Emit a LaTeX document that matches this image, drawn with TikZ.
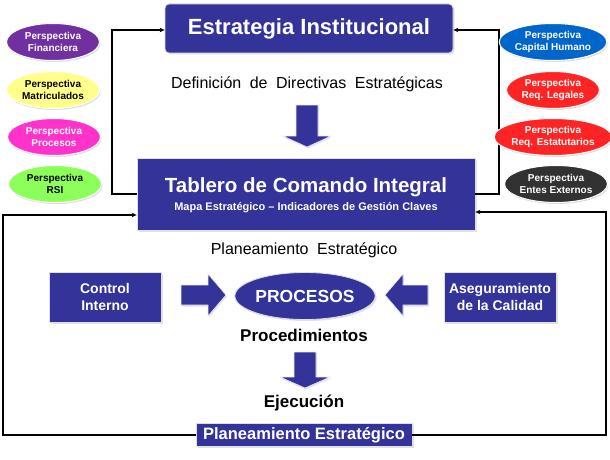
\documentclass[tikz,border=0pt]{standalone}
\usepackage{fontspec}
\setmainfont{Liberation Sans}
\usetikzlibrary{shadows,arrows.meta,shapes.geometric}
\definecolor{mblue}{RGB}{51,51,153}
\definecolor{cpurple}{RGB}{112,48,160}
\definecolor{cyellow}{RGB}{255,255,140}
\definecolor{cmagenta}{RGB}{255,51,204}
\definecolor{cgreen}{RGB}{140,255,90}
\definecolor{cblue}{RGB}{0,102,204}
\definecolor{cred}{RGB}{255,36,36}
\definecolor{cdark}{RGB}{50,50,50}
\newcommand\mywidesp{\spaceskip=8.5pt plus 1pt\relax}
\begin{document}
\begin{tikzpicture}[x=1pt,y=-1pt,
  box/.style={rectangle, fill=mblue, draw=gray!25, line width=0.8pt, text=white, align=center, inner sep=0pt,
    drop shadow={shadow xshift=1.5pt, shadow yshift=-1.5pt, fill=gray!45}},
  persp/.style={ellipse, minimum width=93pt, minimum height=37pt, inner sep=0pt, draw=white, line width=1pt,
    align=center, font=\fontsize{10}{12}\selectfont\bfseries,
    drop shadow={shadow xshift=1pt, shadow yshift=-1.5pt, fill=gray!50}},
  conn/.style={draw=black, line width=1.1pt, -{Stealth[length=5pt,width=4.5pt]}},
  blockarrow/.style={fill=mblue, draw=gray!15, line width=0.6pt,
    drop shadow={shadow xshift=1pt, shadow yshift=-1.5pt, fill=gray!40}},
  plain/.style={inner sep=0pt, font=\fontsize{16}{19}\selectfont\mywidesp},
  boldtxt/.style={inner sep=0pt, font=\fontsize{17}{20}\selectfont\bfseries}
]
\useasboundingbox (0,0) rectangle (610,460);
\fill[white] (0,0) rectangle (610,460);

% main boxes
\node[box, rounded corners=4pt, minimum width=288pt, minimum height=49pt,
      font=\fontsize{22}{26}\selectfont\bfseries] (estr) at (309,28.5) {Estrategia Institucional};
\node[plain] (defin) at (307,84) {Definición de Directivas Estratégicas};
\node[box, minimum width=338pt, minimum height=72pt] (tab) at (306,194) {};
\node[inner sep=0pt, text=white, font=\fontsize{20.5}{24}\selectfont\bfseries] (tabT) at (306,187) {Tablero de Comando Integral};
\node[inner sep=0pt, text=white, font=\fontsize{11}{13}\selectfont\bfseries] (tabS) at (306,208) {Mapa Estratégico – Indicadores de Gestión Claves};
\node[plain] (plan) at (304,250) {Planeamiento Estratégico};

\node[box, minimum width=112pt, minimum height=50pt, font=\fontsize{14}{16.5}\selectfont\bfseries] (ci) at (105,297) {Control\\Interno};
\node[box, minimum width=112pt, minimum height=50pt, font=\fontsize{14}{16.5}\selectfont\bfseries] (as) at (500,297) {Aseguramiento\\de la Calidad};
\node[ellipse, fill=mblue, draw=gray!25, line width=0.8pt, text=white, inner sep=0pt,
      minimum width=131pt, minimum height=47pt, font=\fontsize{17.5}{20}\selectfont\bfseries,
      drop shadow={shadow xshift=1.5pt, shadow yshift=-1.5pt, fill=gray!45}] (proc) at (305,296) {PROCESOS};
\node[boldtxt] (procd) at (304,335) {Procedimientos};
\node[boldtxt] (ejec) at (304,403) {Ejecución};
\node[box, minimum width=216pt, minimum height=23pt, font=\fontsize{16.5}{19}\selectfont\bfseries] (pl) at (304,435) {Planeamiento Estratégico};

% block arrows
\path[blockarrow] (296,105) -- (318,105) -- (318,136) -- (331,136) -- (307,147) -- (283,136) -- (296,136) -- cycle;
\path[blockarrow] (181,285) -- (208,285) -- (208,274) -- (226,295) -- (208,316) -- (208,305) -- (181,305) -- cycle;
\path[blockarrow] (428,285) -- (403,285) -- (403,274) -- (385,295) -- (403,316) -- (403,305) -- (428,305) -- cycle;
\path[blockarrow] (294,352) -- (316,352) -- (316,377) -- (330,377) -- (305,388) -- (280,377) -- (294,377) -- cycle;

% connectors
\coordinate (lc) at (112,30);
\coordinate (rc) at (499,30);
\draw[conn] (tab.west) -| (lc) -- (lc -| estr.west);
\draw[conn] (tab.east) -| (rc) -- (rc -| estr.east);
\coordinate (ol) at (3,215);
\coordinate (orr) at (606,212);
\draw[conn] (pl.west) -| (ol) -- (ol -| tab.west);
\draw[conn] (pl.east) -| (orr) -- (orr -| tab.east);

% perspectives left
\node[persp, fill=cpurple, text=white] (pf) at (53,42) {Perspectiva\\Financiera};
\node[persp, fill=cyellow, text=black] (pm) at (53,90) {Perspectiva\\Matriculados};
\node[persp, fill=cmagenta, text=white] (pp) at (54,137) {Perspectiva\\Procesos};
\node[persp, fill=cgreen, text=black] (pr) at (55,184) {Perspectiva\\RSI};
% perspectives right
\node[persp, fill=cblue, text=white] (pc) at (553,42) {Perspectiva\\Capital Humano};
\node[persp, fill=cred, text=white] (pl2) at (553,90) {Perspectiva\\Req. Legales};
\node[persp, fill=cred, text=white] (pe) at (553,137) {Perspectiva\\Req. Estatutarios};
\node[persp, fill=cdark, text=white] (px) at (556,184) {Perspectiva\\Entes Externos};
\end{tikzpicture}
\end{document}
